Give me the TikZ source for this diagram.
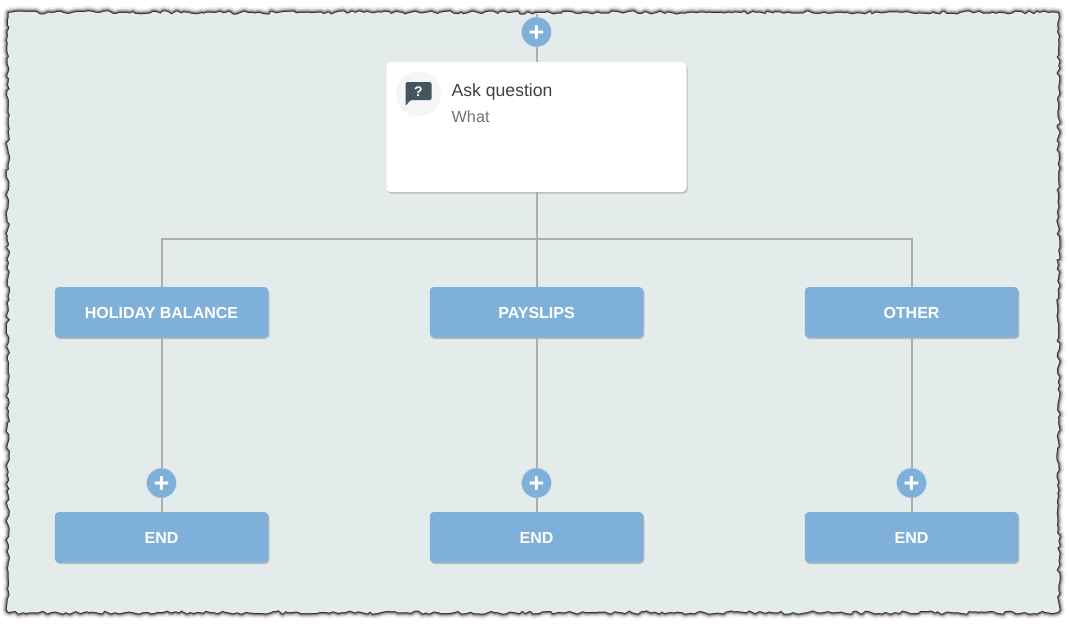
\documentclass[tikz,border=0pt]{standalone}
\usepackage{fontspec}
\setmainfont{Liberation Sans}
\usepackage{xcolor}
\usetikzlibrary{positioning, shadows, decorations.pathmorphing}
\definecolor{panelcol}{HTML}{E4ECEB}
\definecolor{stepcol}{HTML}{7FB0DA}
\definecolor{linkcol}{HTML}{A9AFAF}
\definecolor{iconcol}{HTML}{44555F}
\newcommand{\plusmark}{\raisebox{-2pt}[\height][0pt]{+}}

\begin{document}
\begin{tikzpicture}[
        x=1pt, y=-1pt,
        softshadow/.style={drop shadow={shadow xshift=1pt, shadow yshift=-1.5pt, opacity=0.3, fill=black!70}},
        stepbox/.style={fill=stepcol, rounded corners=4pt, minimum width=213.5pt, minimum height=50.5pt,
                    inner sep=0pt, outer sep=0pt, text=white, text height=12pt, text depth=0pt,
                    font=\fontsize{16}{18}\selectfont\bfseries, softshadow},
        askbox/.style={fill=white, rounded corners=4pt, minimum width=300pt, minimum height=130pt,
                    inner sep=0pt, outer sep=0pt, softshadow},
        plusdot/.style={circle, fill=stepcol, draw=white!60!stepcol, line width=0.5pt, minimum size=30pt, inner sep=0pt, outer sep=0pt,
                    text=white, font=\fontsize{27}{27}\selectfont\bfseries},
        link/.style={linkcol, line width=2pt},
        torn/.style={decorate, decoration={random steps, segment length=4pt, amplitude=1.7pt}}
      ]
        \useasboundingbox (0,0) rectangle (1069,625);
        \fill[white] (0,0) rectangle (1069,625);

        % torn panel, same seed for every layer
        \foreach \w/\o in {11/0.06, 8/0.1, 6/0.15, 4/0.3, 2/0.6} {
          \pgfmathsetseed{41}
          \draw[torn, black, line width=\w pt, opacity=\o, line join=round] (8.5,13) -- (1058,13) -- (1058,612) -- (8.5,612) -- cycle;
        }
        \pgfmathsetseed{41}
        \fill[torn, panelcol] (8.5,13) -- (1058,13) -- (1058,612) -- (8.5,612) -- cycle;

        \node[askbox] (ask) at (536.5,127) {};
        \node[stepbox] (payslips) [below=95pt of ask] {PAYSLIPS};
        \node[stepbox] (holiday) [left=161.5pt of payslips] {HOLIDAY BALANCE};
        \node[stepbox] (other) [right=161.5pt of payslips] {OTHER};
        \node[stepbox] (endmid) [below=174.5pt of payslips] {END};
        \node[stepbox] (endleft) [below=174.5pt of holiday] {END};
        \node[stepbox] (endright) [below=174.5pt of other] {END};

        \coordinate (topedge) at (536.5,14);
        \coordinate (bus) at (536.5,239);
        \node[plusdot] (plustop) [above=15pt of ask] {\plusmark};
        \node[plusdot] (plusmid) [above=14pt of endmid] {\plusmark};
        \node[plusdot] (plusleft) [above=14pt of endleft] {\plusmark};
        \node[plusdot] (plusright) [above=14pt of endright] {\plusmark};

        \draw[link] (topedge) -- (plustop);
        \draw[link] (plustop) -- (ask);
        \draw[link] (ask) -- (payslips);
        \draw[link] (bus) -| (holiday);
        \draw[link] (bus) -| (other);
        \draw[link] (holiday) -- (plusleft);
        \draw[link] (payslips) -- (plusmid);
        \draw[link] (other) -- (plusright);
        \draw[link] (plusleft) -- (endleft);
        \draw[link] (plusmid) -- (endmid);
        \draw[link] (plusright) -- (endright);

        % question icon and texts
        \node[circle, fill=black!4, minimum size=45pt, inner sep=0pt] (icon) at ([xshift=32pt, yshift=-32pt]ask.north west) {};
        \fill[iconcol, rounded corners=1.5pt, shift={(icon.center)}] (-13,-12) -- (13,-12) -- (13,6) -- (-8,6) -- (-13,12) -- cycle;
        \node[text=white, inner sep=0pt, font=\fontsize{14}{14}\selectfont\bfseries] (mark) at ([yshift=2pt]icon.center) {?};
        \node[anchor=west, inner sep=0pt, text=black!75, font=\fontsize{17.6}{20}\selectfont] (asktitle) at ([xshift=65pt, yshift=-29.5pt]ask.north west) {Ask question};
        \node[anchor=west, inner sep=0pt, text=black!55, font=\fontsize{16.2}{18}\selectfont] (asksub) at ([xshift=65pt, yshift=-55pt]ask.north west) {What};
      \end{tikzpicture}
\end{document}
